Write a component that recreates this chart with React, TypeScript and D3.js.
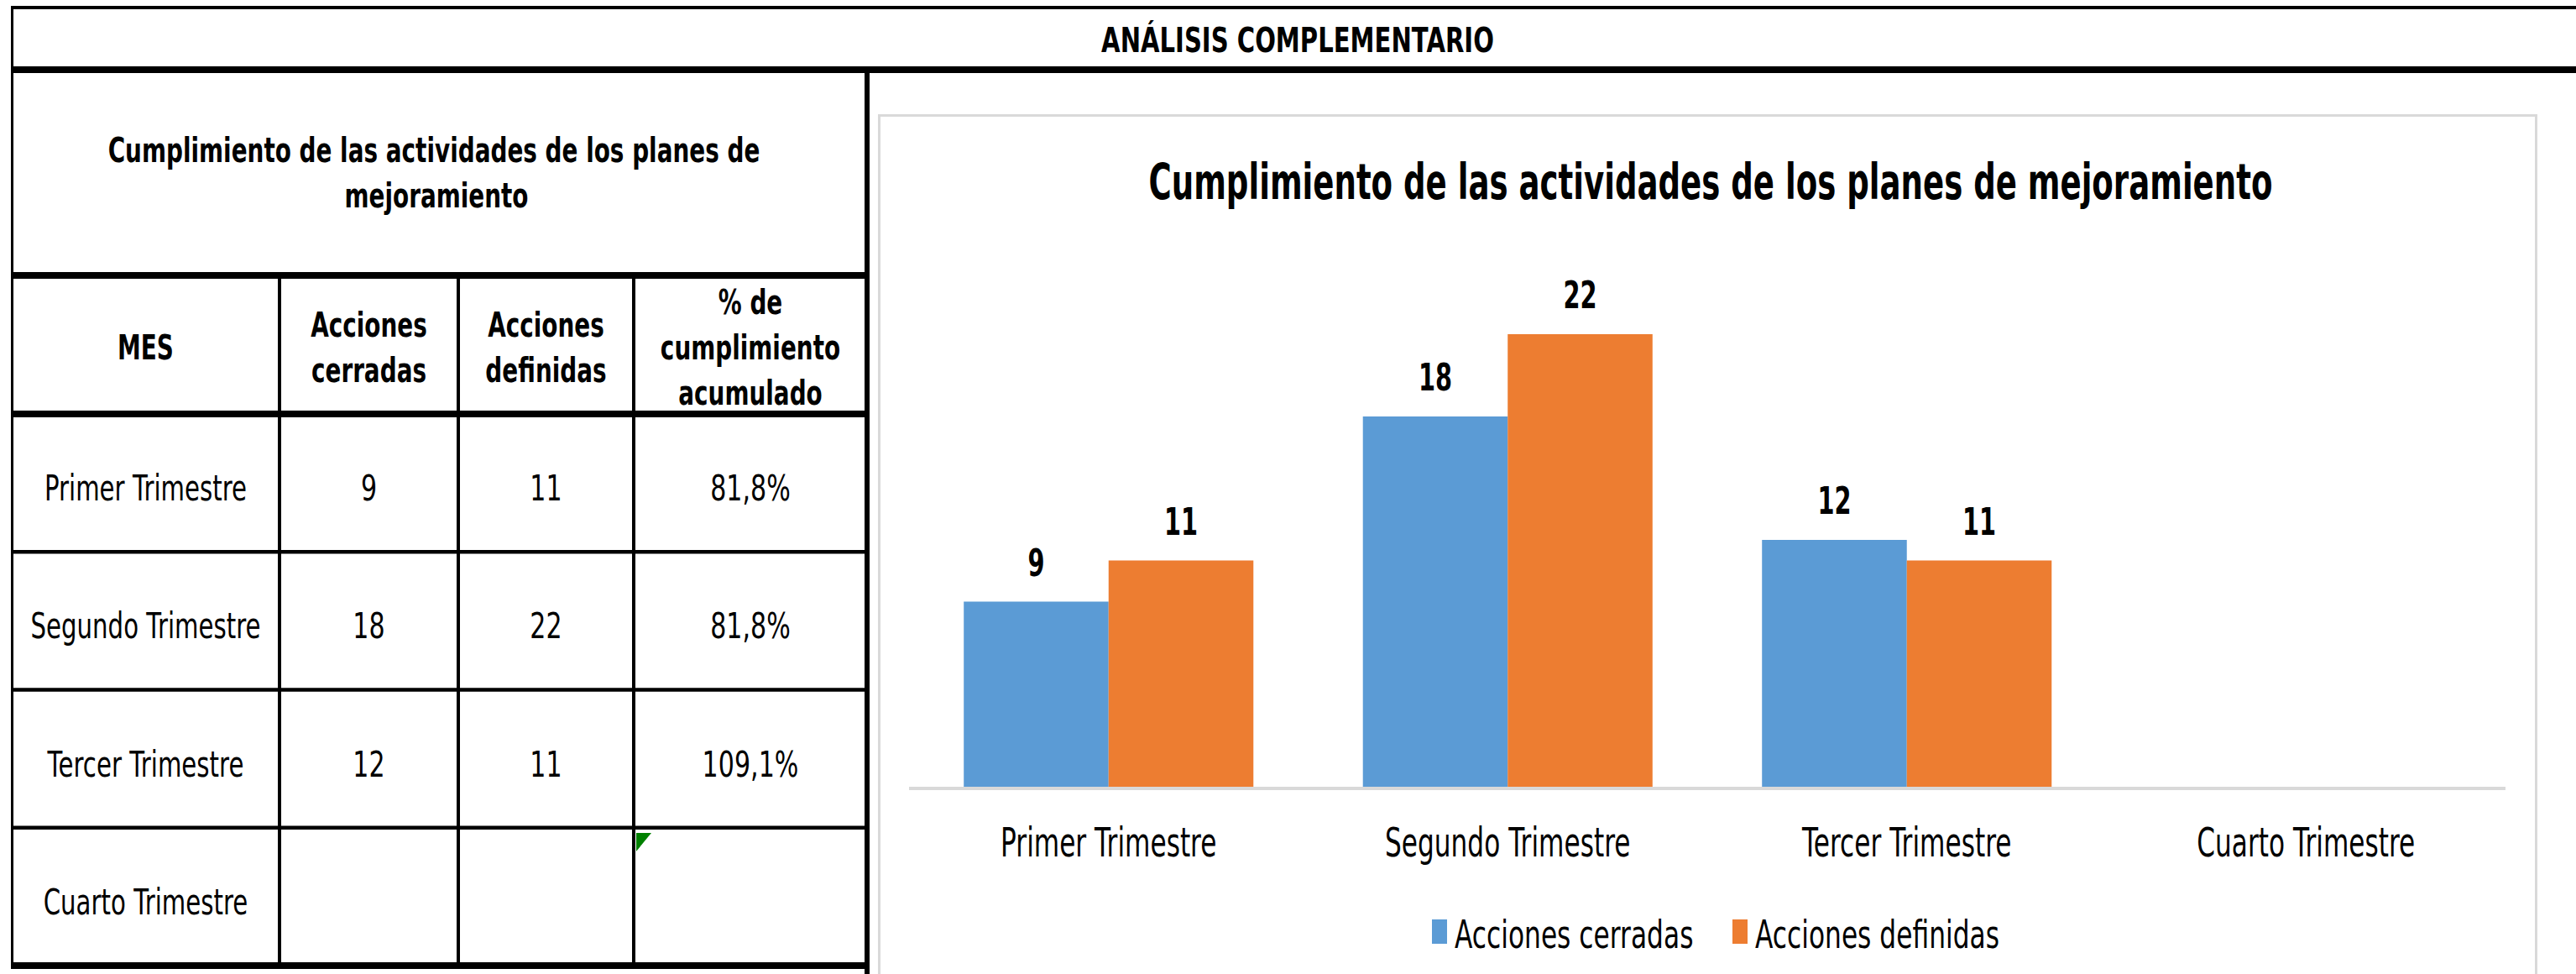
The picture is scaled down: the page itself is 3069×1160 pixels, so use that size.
import React from "react";
import * as d3 from "d3";

// data
const categories = ["Primer Trimestre", "Segundo Trimestre", "Tercer Trimestre", "Cuarto Trimestre"];
const accionesCerradas: (number | null)[] = [9, 18, 12, null];
const accionesDefinidas: (number | null)[] = [11, 22, 11, null];
const cumplimiento = ["81,8%", "81,8%", "109,1%", ""];
const seriesNames = ["Acciones cerradas", "Acciones definidas"];
const seriesColors = ["#5B9BD5", "#ED7D31"];
const headerLabels = [["MES"], ["Acciones", "cerradas"], ["Acciones", "definidas"], ["% de", "cumplimiento", "acumulado"]];

const W = 3069;
const H = 1160;
const FONT = "'DejaVu Sans', Verdana, sans-serif";

function SText({ x, y, size, bold = false, sx = 0.65, anchor = "middle", fill = "#000", children }: any) {
  return (
    <text
      transform={`translate(${x},${y}) scale(${sx},1)`}
      fontSize={size}
      fontWeight={bold ? 700 : 400}
      fontFamily={FONT}
      textAnchor={anchor}
      fill={fill}
    >
      {children}
    </text>
  );
}

export default function App() {
  // table geometry
  const colEdges = [14, 333, 546, 755, 1033];
  const rowScale = d3.scaleBand<string>().domain(categories).range([493, 1150]).padding(0);

  // chart scales
  const x0 = d3.scaleBand<string>().domain(categories).range([1083, 2985]).padding(0);
  const x1 = d3
    .scaleBand<string>()
    .domain(seriesNames)
    .range([0, x0.bandwidth()])
    .paddingInner(0)
    .paddingOuter(0.378);
  const y = d3.scaleLinear().domain([0, 25]).range([937, 324.5]);
  const series = [accionesCerradas, accionesDefinidas];

  const colCenter = (i: number) => (colEdges[i] + colEdges[i + 1]) / 2;

  return (
    <svg width={W} height={H} style={{ position: "absolute", left: 0, top: 0, background: "#fff" }}>
      <rect x={0} y={0} width={W} height={H} fill="#fff" />

      {/* chart frame */}
      <rect x={1047.5} y={137.5} width={1974} height={1100} fill="#fff" stroke="#D9D9D9" strokeWidth={3} />

      {/* top header */}
      <SText x={1546} y={62} size={41} bold sx={0.71}>ANÁLISIS COMPLEMENTARIO</SText>

      {/* left panel title */}
      <SText x={517} y={193} size={41} bold sx={0.68}>Cumplimiento de las actividades de los planes de</SText>
      <SText x={520} y={247} size={41} bold sx={0.68}>mejoramiento</SText>

      {/* table header */}
      {headerLabels.map((lines, i) => {
        const mid = 414;
        const lh = 54;
        const start = mid + 14 - ((lines.length - 1) * lh) / 2;
        return lines.map((l, j) => (
          <SText key={`h${i}${j}`} x={colCenter(i)} y={start + j * lh} size={41} bold sx={0.68}>
            {l}
          </SText>
        ));
      })}

      {/* table rows */}
      {categories.map((c, i) => {
        const cy = (rowScale(c) as number) + rowScale.bandwidth() / 2 + 21;
        const vals = [c, accionesCerradas[i] ?? "", accionesDefinidas[i] ?? "", cumplimiento[i]];
        return vals.map((v, j) => (
          <SText key={`r${i}${j}`} x={colCenter(j)} y={cy} size={43} sx={j === 0 ? 0.68 : 0.7}>
            {v}
          </SText>
        ));
      })}

      {/* green error marker */}
      <polygon points="758,992 776,992 758,1014" fill="#008000" />

      {/* grid lines */}
      <g stroke="#000">
        <line x1={13} x2={W} y1={9} y2={9} strokeWidth={4} />
        <line x1={13} x2={W} y1={83} y2={83} strokeWidth={8} />
        <line x1={13} x2={1036} y1={328} y2={328} strokeWidth={8} />
        <line x1={13} x2={1036} y1={493} y2={493} strokeWidth={8} />
        {categories.slice(1).map((c) => (
          <line key={c} x1={13} x2={1036} y1={rowScale(c)} y2={rowScale(c)} strokeWidth={4.5} />
        ))}
        <line x1={13} x2={1036} y1={1150} y2={1150} strokeWidth={8} />
        <line x1={14.5} x2={14.5} y1={7} y2={1154} strokeWidth={3} />
        {colEdges.slice(1, 4).map((e) => (
          <line key={e} x1={e} x2={e} y1={328} y2={1150} strokeWidth={4} />
        ))}
        <line x1={1033} x2={1033} y1={83} y2={H} strokeWidth={6} />
      </g>

      {/* chart title */}
      <SText x={2038} y={237} size={58} bold sx={0.64}>
        Cumplimiento de las actividades de los planes de mejoramiento
      </SText>

      {/* bars */}
      {series.map((vals, si) =>
        vals.map((v, ci) => {
          if (v == null) return null;
          const bx = (x0(categories[ci]) as number) + (x1(seriesNames[si]) as number);
          return (
            <g key={`b${si}${ci}`}>
              <rect x={bx} y={y(v)} width={x1.bandwidth()} height={y(0) - y(v)} fill={seriesColors[si]} />
              <SText x={bx + x1.bandwidth() / 2} y={y(v) - 31} size={45} bold sx={0.64}>
                {v}
              </SText>
            </g>
          );
        })
      )}

      {/* baseline */}
      <line x1={1083} x2={2985} y1={939} y2={939} stroke="#D9D9D9" strokeWidth={4} />

      {/* category labels */}
      {categories.map((c) => (
        <SText key={c} x={(x0(c) as number) + x0.bandwidth() / 2} y={1020} size={48} sx={0.65}>
          {c}
        </SText>
      ))}

      {/* legend */}
      {seriesNames.map((s, i) => {
        const lx = [1706, 2064][i];
        return (
          <g key={s}>
            <rect x={lx} y={1095} width={18} height={29} fill={seriesColors[i]} />
            <SText x={lx + 27} y={1129} size={46} sx={0.68} anchor="start">
              {s}
            </SText>
          </g>
        );
      })}
    </svg>
  );
}
